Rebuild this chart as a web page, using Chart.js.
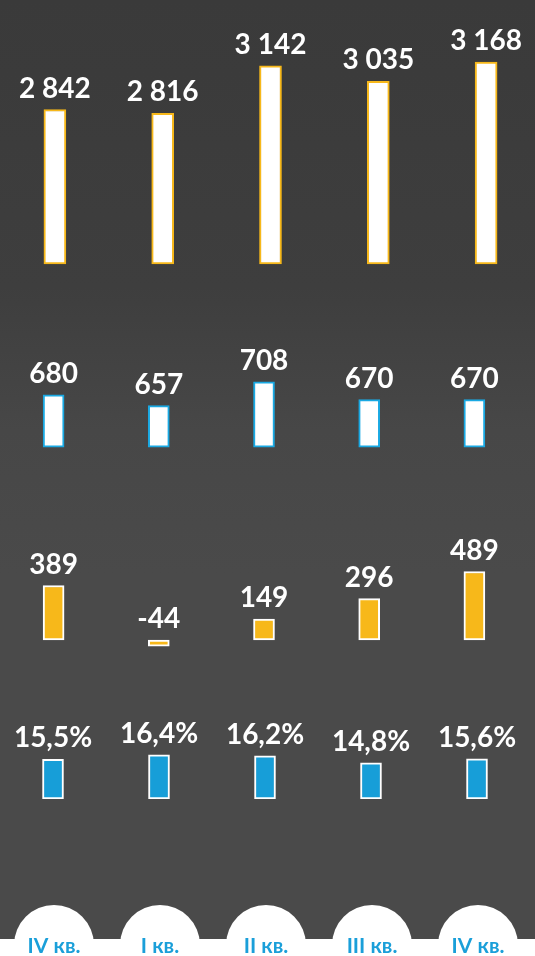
<!DOCTYPE html>
<html>
<head>
<meta charset="utf-8">
<script src="https://cdn.jsdelivr.net/npm/chart.js@4"></script>
<style>
    html, body { margin: 0; padding: 0; }
    body {
        width: 535px;
        height: 956px;
        position: relative;
        overflow: hidden;
        background: linear-gradient(180deg, #3a3a3a 0%, #3e3e3e 30%, #474747 45%, #4a4a4a 60%, #4a4a4a 100%);
        font-family: Lato, "Open Sans", sans-serif;
    }
    .row { position: absolute; }
    .band { position: absolute; left: 0; top: 939px; width: 535px; height: 17px; background: #ffffff; }
</style>
</head>
<body>
<div class="band"></div>
<div class="row" style="left:1px; top:0px; width:539px; height:265px;"><canvas id="revenue-chart"></canvas></div>
<div class="row" style="left:1px; top:330px; width:526px; height:118px;"><canvas id="ebitda-chart"></canvas></div>
<div class="row" style="left:1px; top:500px; width:526px; height:160px;"><canvas id="profit-chart"></canvas></div>
<div class="row" style="left:0px; top:700px; width:530px; height:256px;"><canvas id="margin-chart"></canvas></div>

<script>
const quarters = ["IV кв.", "I кв.", "II кв.", "III кв.", "IV кв."];
const revenue = [2842, 2816, 3142, 3035, 3168];
const ebitda = [680, 657, 708, 670, 670];
const netProfit = [389, -44, 149, 296, 489];
const margin = [15.5, 16.4, 16.2, 14.8, 15.6];

const ORANGE = "#f7b81a";
const BLUE = "#179ed8";
const BLUE_LINE = "#19a9e3";

function formatNumber(v) {
    const s = String(Math.abs(v)).replace(/\B(?=(\d{3})+(?!\d))/g, " ");
    return (v < 0 ? "-" : "") + s;
}

function formatPercent(v) {
    return v.toFixed(1).replace(".", ",") + "%";
}

// draws the value above every bar
function valueLabels(texts) {
    return {
        id: "valueLabels",
        afterDatasetsDraw(chart) {
            const ctx = chart.ctx;
            const meta = chart.getDatasetMeta(0);
            ctx.save();
            ctx.font = "bold 28px Lato";
            ctx.fillStyle = "#ffffff";
            ctx.textAlign = "center";
            ctx.textBaseline = "alphabetic";
            meta.data.forEach((bar, i) => {
                const top = Math.min(bar.y, bar.base);
                ctx.fillText(texts[i], bar.x, top - 12);
            });
            ctx.restore();
        }
    };
}

// white circles with quarter names under the last row
const quarterBadges = {
    id: "quarterBadges",
    afterDraw(chart) {
        const ctx = chart.ctx;
        const x = chart.scales.x;
        ctx.save();
        ctx.fillStyle = "#ffffff";
        quarters.forEach((q, i) => {
            ctx.beginPath();
            ctx.arc(x.getPixelForValue(i) + 1, 245, 40, 0, Math.PI * 2);
            ctx.fill();
        });
        ctx.fillStyle = "#1a9fd9";
        ctx.font = "bold 21px Lato";
        ctx.textAlign = "center";
        ctx.textBaseline = "alphabetic";
        quarters.forEach((q, i) => {
            ctx.fillText(q, x.getPixelForValue(i) + 1, 253);
        });
        ctx.restore();
    }
};

function makeChart(id, values, texts, opts, extraPlugins) {
    return new Chart(document.getElementById(id).getContext("2d"), {
        type: "bar",
        data: {
            labels: quarters,
            datasets: [{
                data: values,
                base: opts.base,
                backgroundColor: opts.fill,
                borderColor: opts.border,
                borderWidth: 2,
                borderSkipped: false,
                barThickness: opts.thickness
            }]
        },
        options: {
            responsive: true,
            maintainAspectRatio: false,
            animation: false,
            layout: { padding: { bottom: opts.padBottom || 0 } },
            plugins: {
                legend: { display: false },
                tooltip: { enabled: false }
            },
            scales: {
                x: { display: false },
                y: { display: false, beginAtZero: false, min: opts.min, max: opts.max }
            }
        },
        plugins: [valueLabels(texts)].concat(extraPlugins || [])
    });
}

document.addEventListener("DOMContentLoaded", function () {
    makeChart("revenue-chart", revenue, revenue.map(formatNumber),
        { fill: "#ffffff", border: ORANGE, thickness: 22, min: 1773, max: 3595, base: 1780 });

    makeChart("ebitda-chart", ebitda, ebitda.map(formatNumber),
        { fill: "#ffffff", border: BLUE_LINE, thickness: 21, min: 567, max: 818, base: 569 });

    makeChart("profit-chart", netProfit, netProfit.map(formatNumber),
        { fill: ORANGE, border: "#ffffff", thickness: 21, min: -143, max: 1000, base: 0 });

    makeChart("margin-chart", margin, margin.map(formatPercent),
        { fill: BLUE, border: "#ffffff", thickness: 21, min: 7.5, max: 27.5, base: 7.5, padBottom: 157 },
        [quarterBadges]);
});
</script>
</body>
</html>
